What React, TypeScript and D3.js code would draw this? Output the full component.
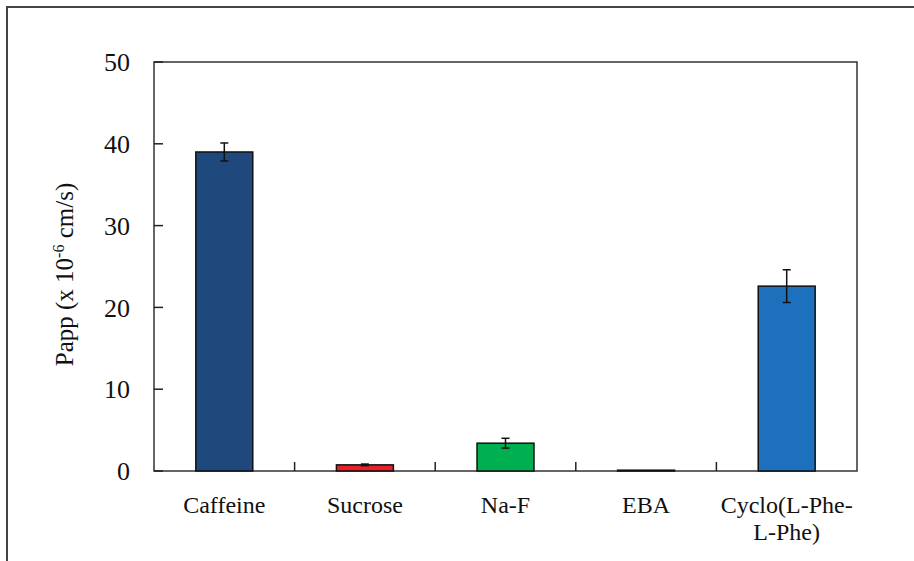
import React from "react";
import * as d3 from "d3";

const categories = ["Caffeine", "Sucrose", "Na-F", "EBA", "Cyclo(L-Phe-|L-Phe)"];
const values = [39.0, 0.75, 3.4, 0.1, 22.6];
const errors = [1.1, 0.1, 0.6, 0.0, 2.0];
const colors = ["#1F497D", "#E8202A", "#00B050", "#1F497D", "#1C70BC"];
const yTicks = [0, 10, 20, 30, 40, 50];

export default function App() {
  const W = 914, H = 561;
  const left = 154, right = 857, top = 62, bottom = 471;
  const x = d3.scaleBand<string>().domain(categories).range([left, right]).paddingInner(0).paddingOuter(0);
  const y = d3.scaleLinear().domain([0, 50]).range([bottom, top]);
  const bw = x.bandwidth() * 0.405;
  const font = "Liberation Serif";
  return (
    <svg width={W} height={H} style={{ position: "absolute", left: 0, top: 0, background: "#fff", fontFamily: "'Liberation Serif', 'DejaVu Serif', serif" }}>
      <rect x={0} y={0} width={W} height={H} fill="#fff" />
      <rect x={7} y={7} width={W + 20} height={H + 20} fill="none" stroke="#444" strokeWidth={2} />
      <rect x={left} y={top} width={right - left} height={bottom - top} fill="none" stroke="#333" strokeWidth={1.5} />
      {yTicks.map((t) => (
        <g key={t}>
          <line x1={left} x2={left + 9} y1={y(t)} y2={y(t)} stroke="#222" strokeWidth={1.5} />
          <text x={130} y={y(t)} dy="0.35em" textAnchor="end" fontFamily={font} fontSize={26} fill="#111">{t}</text>
        </g>
      ))}
      {categories.slice(1).map((c) => (
        <line key={c} x1={x(c)!} x2={x(c)!} y1={bottom} y2={bottom - 9} stroke="#222" strokeWidth={1.5} />
      ))}
      {categories.map((c, i) => {
        const cx = x(c)! + x.bandwidth() / 2;
        return (
          <g key={c}>
            <rect x={cx - bw / 2} y={y(values[i])} width={bw} height={bottom - y(values[i])} fill={colors[i]} stroke="#111" strokeWidth={1.5} />
            {errors[i] > 0 && (
              <g stroke="#111" strokeWidth={1.5}>
                <line x1={cx} x2={cx} y1={y(values[i] + errors[i])} y2={y(values[i] - errors[i])} />
                <line x1={cx - 4} x2={cx + 4} y1={y(values[i] + errors[i])} y2={y(values[i] + errors[i])} />
                <line x1={cx - 4} x2={cx + 4} y1={y(values[i] - errors[i])} y2={y(values[i] - errors[i])} />
              </g>
            )}
            <text x={cx} y={513} textAnchor="middle" fontFamily={font} fontSize={24} fill="#111">
              {c.split("|").map((line, k) => (
                <tspan key={k} x={cx} dy={k === 0 ? 0 : 27}>{line}</tspan>
              ))}
            </text>
          </g>
        );
      })}
      <text transform={`translate(73,${(top + bottom) / 2 + 8}) rotate(-90)`} textAnchor="middle" fontFamily={font} fontSize={25} fill="#111">
        Papp (x 10<tspan dy={-9} fontSize={16}>-6</tspan><tspan dy={9}> cm/s)</tspan>
      </text>
    </svg>
  );
}
